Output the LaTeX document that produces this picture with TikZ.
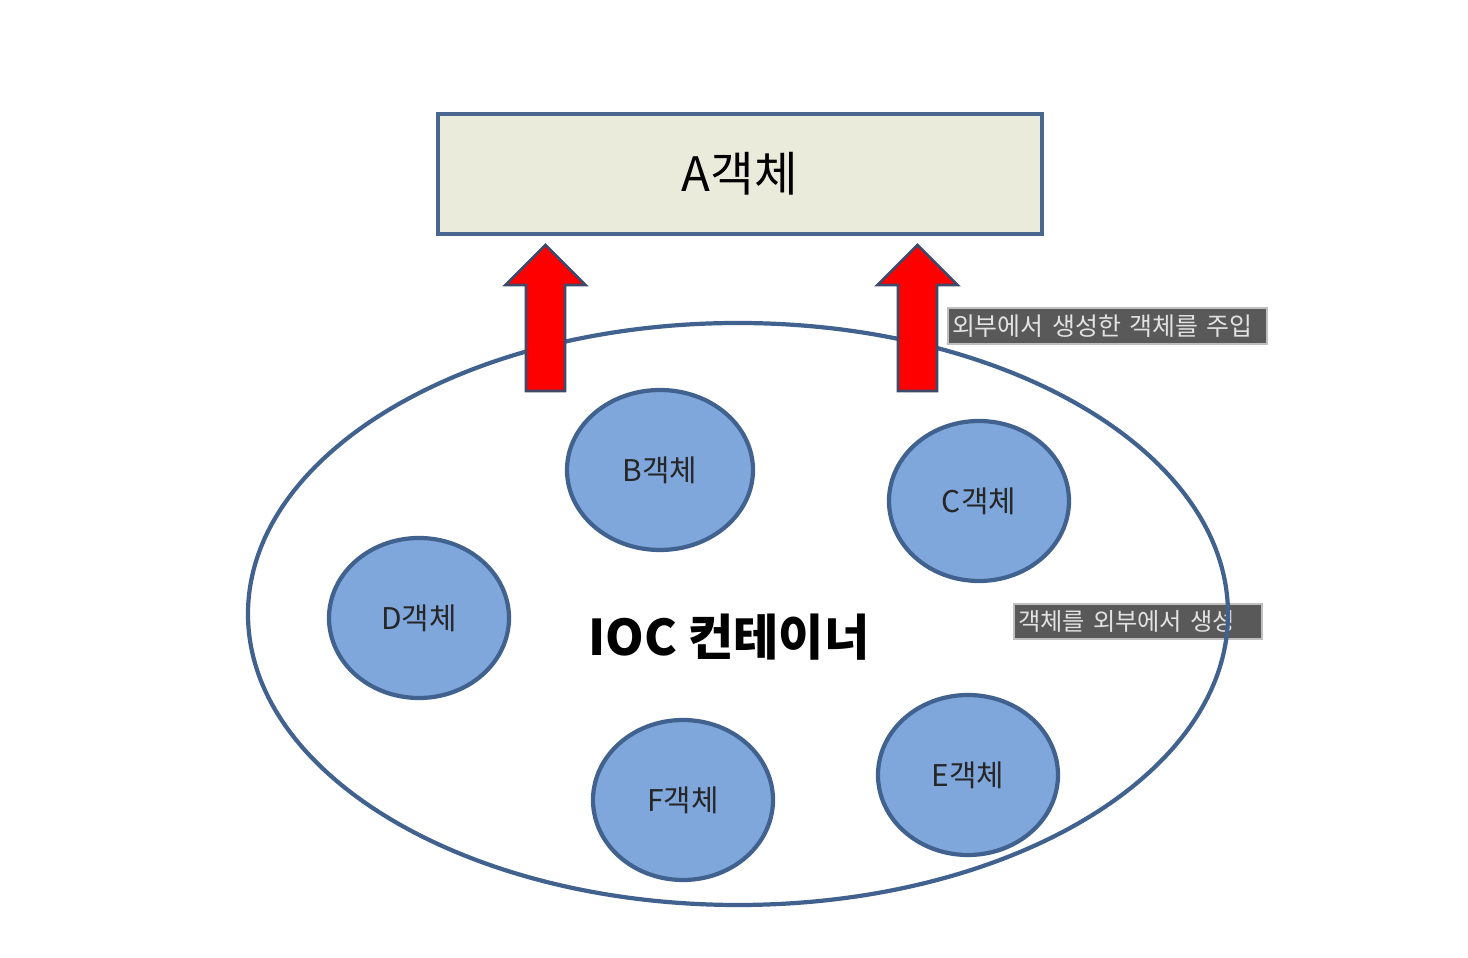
\documentclass[tikz,border=0pt]{standalone}
\usepackage{fontspec}
\setmainfont{Noto Sans CJK KR}
\usetikzlibrary{shapes.geometric}
\definecolor{boxfill}{HTML}{EBEBDC}
\definecolor{boxline}{HTML}{4A6790}
\definecolor{objfill}{HTML}{7FA7DC}
\definecolor{objline}{HTML}{41628F}
\definecolor{notefill}{HTML}{595959}
\definecolor{notetext}{HTML}{E2E2E2}
\definecolor{arrowline}{HTML}{3F4A6A}

\begin{document}
\begin{tikzpicture}[
  obj/.style={ellipse, draw=objline, line width=1.2pt, fill=objfill, minimum width=1.8cm, minimum height=1.6cm, inner sep=0pt, font=\fontsize{8.5}{10}\selectfont, text=black!85},
  note/.style={fill=notefill, text=notetext, draw=gray!50, line width=0.4pt, inner xsep=0.04cm, inner ysep=0pt, align=left, font=\fontsize{7.1}{8}\selectfont},
  bigarrow/.style={draw=arrowline, line width=0.8pt, fill=red, line join=miter}]
  \useasboundingbox (0,0) rectangle (14.68,9.58);
  % A object on top
  \node[draw=boxline, line width=1.2pt, fill=boxfill, minimum width=6.04cm, minimum height=1.2cm, font=\fontsize{13.5}{15}\selectfont] (A) at (7.40,7.84) {A객체};
  % side notes
  \node[note, text width=3.11cm, minimum height=0.36cm] (inject) at (11.075,6.32) {외부에서 생성한 객체를 주입};
  \node[note, text width=2.40cm, minimum height=0.35cm, font=\fontsize{6.9}{8}\selectfont] (create) at (11.38,3.365) {객체를 외부에서 생성};
  % container
  \node[ellipse, draw=objline, line width=1.2pt, minimum width=9.8cm, minimum height=5.82cm] (ioc) at (7.38,3.44) {};
  \node[font=\fontsize{14}{16}\selectfont\bfseries] (ioclabel) at (7.29,3.21) {IOC 컨테이너};
  % injection arrows
  \foreach \x in {5.455, 9.175}
    \draw[bigarrow] ({\x-0.195},5.67) -- ({\x-0.195},6.73) -- ({\x-0.40},6.73) -- (\x,7.13)
      -- ({\x+0.40},6.73) -- ({\x+0.195},6.73) -- ({\x+0.195},5.67) -- cycle;
  % objects inside the container
  \node[obj, minimum width=1.86cm] (B) at (6.60,4.88) {B객체};
  \node[obj] (C) at (9.79,4.57) {C객체};
  \node[obj] (D) at (4.19,3.40) {D객체};
  \node[obj] (F) at (6.83,1.58) {F객체};
  \node[obj] (E) at (9.68,1.83) {E객체};
\end{tikzpicture}
\end{document}
